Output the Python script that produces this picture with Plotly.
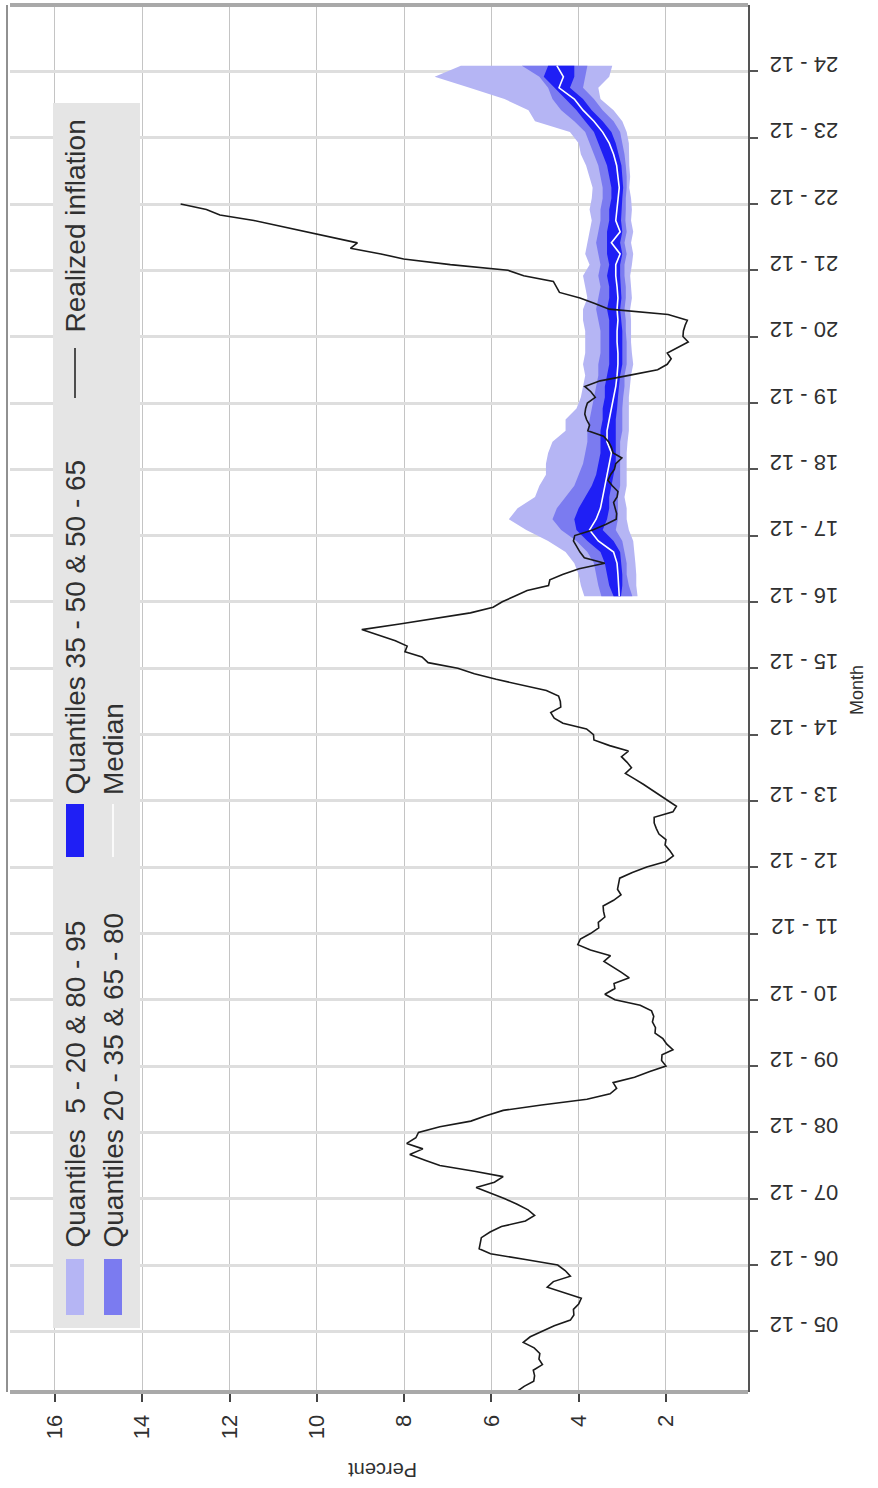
import pandas as pd
import plotly.graph_objects as go

# ---------------------------------------------------------------- data
# Realized annual inflation, monthly, 2005-01 .. 2022-12 (percent)
realized_2005 = [5.43, 5.25, 5.03, 5.01, 5.04, 4.83, 4.91, 4.89, 5.02, 5.27, 5.11, 4.85]
realized_2006 = [4.56, 4.19, 4.11, 4.12, 4.00, 3.94, 4.32, 4.72, 4.58, 4.19, 4.31, 4.48]
realized_2007 = [5.22, 6.02, 6.28, 6.26, 6.23, 6.03, 5.77, 5.22, 5.01, 5.16, 5.41, 5.69]
realized_2008 = [6.00, 6.35, 5.93, 5.73, 6.39, 7.18, 7.52, 7.87, 7.57, 7.94, 7.73, 7.67]
realized_2009 = [7.18, 6.47, 6.14, 5.73, 4.85, 3.81, 3.28, 3.13, 3.21, 2.72, 2.37, 2.00]
realized_2010 = [2.10, 2.09, 1.84, 1.98, 2.07, 2.25, 2.24, 2.31, 2.28, 2.33, 2.59, 3.17]
realized_2011 = [3.40, 3.17, 3.19, 2.84, 3.02, 3.23, 3.42, 3.27, 3.73, 4.02, 3.96, 3.73]
realized_2012 = [3.54, 3.55, 3.40, 3.43, 3.44, 3.20, 3.03, 3.11, 3.08, 3.06, 2.77, 2.44]
realized_2013 = [2.00, 1.83, 1.91, 2.02, 2.00, 2.16, 2.22, 2.27, 2.27, 1.84, 1.76, 1.94]
realized_2014 = [2.13, 2.32, 2.51, 2.72, 2.93, 2.79, 2.89, 3.02, 2.86, 3.29, 3.65, 3.66]
realized_2015 = [3.82, 4.36, 4.56, 4.64, 4.41, 4.42, 4.46, 4.74, 5.35, 5.89, 6.39, 6.77]
realized_2016 = [7.45, 7.59, 7.98, 7.93, 8.20, 8.60, 8.97, 8.10, 7.27, 6.48, 5.96, 5.75]
realized_2017 = [5.47, 5.18, 4.69, 4.66, 4.37, 3.99, 3.40, 3.87, 3.97, 4.05, 4.12, 4.09]
realized_2018 = [3.68, 3.37, 3.14, 3.13, 3.16, 3.20, 3.12, 3.10, 3.23, 3.33, 3.27, 3.18]
realized_2019 = [3.15, 3.01, 3.21, 3.25, 3.31, 3.43, 3.79, 3.75, 3.82, 3.86, 3.84, 3.80]
realized_2020 = [3.62, 3.72, 3.86, 3.51, 2.85, 2.19, 1.97, 1.88, 1.97, 1.75, 1.49, 1.61]
realized_2021 = [1.60, 1.56, 1.51, 1.95, 3.30, 3.63, 3.97, 4.44, 4.51, 4.58, 5.26, 5.62]
realized_2022 = [6.94, 8.01, 8.53, 9.23, 9.07, 9.67, 10.21, 10.84, 11.44, 12.22, 12.53, 13.12]

realized = (realized_2005 + realized_2006 + realized_2007 + realized_2008 + realized_2009
            + realized_2010 + realized_2011 + realized_2012 + realized_2013 + realized_2014
            + realized_2015 + realized_2016 + realized_2017 + realized_2018 + realized_2019
            + realized_2020 + realized_2021 + realized_2022)
realized_months = pd.date_range("2005-01-01", periods=len(realized), freq="MS")

# Expectation quantiles, every second month 2017-01 .. 2025-01 (percent)
q05 = [2.65, 2.68, 2.68, 2.70, 2.72, 2.75, 2.85, 2.90, 2.90, 2.95, 2.90, 2.90,
       2.90, 2.90, 2.88, 2.85, 2.85, 2.85, 2.85, 2.82, 2.80, 2.75, 2.78, 2.80,
       2.80, 2.80, 2.82, 2.78, 2.80, 2.82, 2.78, 2.75, 2.80, 2.75, 2.80, 2.78,
       2.80, 2.84, 2.82, 2.84, 2.85, 2.85, 2.90, 3.00, 3.20, 3.50, 3.55, 3.30, 3.23]
q20 = [2.77, 2.85, 2.90, 2.90, 2.95, 3.00, 3.15, 3.10, 3.10, 3.10, 3.05, 3.05,
       3.05, 3.05, 3.05, 3.00, 3.00, 3.00, 2.98, 2.95, 2.95, 2.90, 2.90, 2.90,
       2.92, 2.92, 2.95, 2.92, 2.92, 2.95, 2.95, 2.90, 2.95, 2.90, 2.93, 2.92,
       2.92, 2.90, 2.90, 2.92, 2.95, 3.00, 3.05, 3.20, 3.45, 3.65, 3.90, 3.85, 3.80]
q35 = [3.03, 3.00, 3.00, 3.02, 3.05, 3.20, 3.45, 3.35, 3.30, 3.30, 3.25, 3.20,
       3.15, 3.15, 3.15, 3.15, 3.15, 3.12, 3.10, 3.08, 3.05, 3.00, 3.00, 3.00,
       3.00, 3.02, 3.05, 3.02, 3.03, 3.05, 3.05, 3.00, 3.05, 3.00, 3.03, 3.02,
       3.00, 2.98, 3.00, 3.02, 3.08, 3.15, 3.25, 3.45, 3.70, 3.90, 4.20, 4.10, 4.10]
q50 = [3.07, 3.08, 3.10, 3.12, 3.20, 3.55, 3.75, 3.60, 3.50, 3.45, 3.40, 3.35,
       3.30, 3.25, 3.35, 3.35, 3.30, 3.25, 3.20, 3.15, 3.12, 3.10, 3.10, 3.12,
       3.12, 3.10, 3.12, 3.10, 3.12, 3.15, 3.15, 3.05, 3.25, 3.05, 3.15, 3.12,
       3.10, 3.07, 3.10, 3.13, 3.20, 3.30, 3.45, 3.65, 3.90, 4.10, 4.45, 4.35, 4.50]
q65 = [3.20, 3.30, 3.35, 3.40, 3.50, 3.80, 4.05, 4.10, 4.00, 3.85, 3.70, 3.60,
       3.55, 3.50, 3.50, 3.50, 3.45, 3.45, 3.40, 3.40, 3.35, 3.30, 3.30, 3.30,
       3.30, 3.30, 3.35, 3.30, 3.30, 3.35, 3.30, 3.35, 3.35, 3.35, 3.30, 3.30,
       3.25, 3.25, 3.30, 3.35, 3.45, 3.55, 3.65, 3.85, 4.05, 4.30, 4.55, 4.80, 4.70]
q80 = [3.48, 3.55, 3.60, 3.65, 3.80, 4.05, 4.40, 4.60, 4.50, 4.30, 4.10, 4.00,
       3.90, 3.85, 3.80, 3.80, 3.75, 3.70, 3.65, 3.60, 3.55, 3.55, 3.50, 3.50,
       3.50, 3.55, 3.60, 3.55, 3.50, 3.55, 3.50, 3.55, 3.60, 3.55, 3.50, 3.50,
       3.45, 3.45, 3.50, 3.55, 3.65, 3.75, 3.85, 4.10, 4.40, 4.60, 4.70, 4.90, 5.30]
q95 = [3.87, 3.95, 4.00, 4.10, 4.30, 4.70, 5.20, 5.60, 5.40, 5.00, 4.90, 4.75,
       4.75, 4.70, 4.60, 4.30, 4.30, 4.05, 3.95, 3.90, 3.85, 3.90, 3.85, 3.85,
       3.85, 3.90, 3.90, 3.80, 3.85, 3.90, 3.75, 3.85, 3.80, 3.75, 3.70, 3.75,
       3.70, 3.68, 3.75, 3.83, 3.95, 4.00, 4.20, 5.00, 5.15, 5.70, 6.50, 7.30, 6.70]
band_months = pd.date_range("2017-01-01", periods=len(q50), freq="2MS")

# Axis ticks
month_tick_dates = pd.date_range("2005-12-01", "2024-12-01", freq="12MS")
month_tick_text = ["05 - 12", "06 - 12", "07 - 12", "08 - 12", "09 - 12", "10 - 12",
                   "11 - 12", "12 - 12", "13 - 12", "14 - 12", "15 - 12", "16 - 12",
                   "17 - 12", "18 - 12", "19 - 12", "20 - 12", "21 - 12", "22 - 12",
                   "23 - 12", "24 - 12"]
percent_ticks = [2, 4, 6, 8, 10, 12, 14, 16]

# ---------------------------------------------------------------- style
FONT = "Liberation Sans, Arial, sans-serif"
TEXT = "#303030"
LIGHT = "#b5b5f4"
MEDIUM = "#7b7bf0"
DARK = "#1f1ff5"

W, H = 878, 1488
PX0, PX1, PY0, PY1 = 10, 748, 5, 1392  # plot-area box in pixels


def fx(xp):
    return (xp - PX0) / (PX1 - PX0)


def fy(yp):
    return (PY1 - yp) / (PY1 - PY0)


def band(lo, hi, color):
    dates = list(band_months)
    return go.Scatter(
        x=list(hi) + list(lo)[::-1],
        y=dates + dates[::-1],
        fill="toself", fillcolor=color, mode="lines",
        line=dict(width=0), hoverinfo="skip", showlegend=False,
    )


fig = go.Figure()
fig.add_trace(band(q05, q95, LIGHT))
fig.add_trace(band(q20, q80, MEDIUM))
fig.add_trace(band(q35, q65, DARK))
fig.add_trace(go.Scatter(x=q50, y=band_months, mode="lines",
                         line=dict(color="white", width=1.6), showlegend=False))
fig.add_trace(go.Scatter(x=realized, y=realized_months, mode="lines",
                         line=dict(color="#1a1a1a", width=1.6), showlegend=False))

# ---------------------------------------------------------------- legend (rotated)
shapes = [
    # panel frame
    dict(type="line", xref="paper", yref="paper", x0=0, x1=1, y0=1, y1=1,
         line=dict(color="#a9a9a9", width=4)),
    dict(type="line", xref="paper", yref="paper", x0=0, x1=1, y0=0, y1=0,
         line=dict(color="#a9a9a9", width=4)),
    dict(type="line", xref="paper", yref="paper", x0=fx(7), x1=fx(7), y0=0, y1=1,
         line=dict(color="#222222", width=1)),
    # legend background
    dict(type="rect", xref="paper", yref="paper", x0=fx(53), x1=fx(140),
         y0=fy(1328), y1=fy(103), fillcolor="#e5e5e5", line=dict(width=0), layer="above"),
    dict(type="rect", xref="paper", yref="paper", x0=fx(66), x1=fx(84),
         y0=fy(1315), y1=fy(1259), fillcolor=LIGHT, line=dict(width=0), layer="above"),
    dict(type="rect", xref="paper", yref="paper", x0=fx(104), x1=fx(122),
         y0=fy(1315), y1=fy(1259), fillcolor=MEDIUM, line=dict(width=0), layer="above"),
    dict(type="rect", xref="paper", yref="paper", x0=fx(66), x1=fx(84),
         y0=fy(857), y1=fy(804), fillcolor=DARK, line=dict(width=0), layer="above"),
    dict(type="line", xref="paper", yref="paper", x0=fx(113), x1=fx(113),
         y0=fy(857), y1=fy(804), line=dict(color="white", width=1.6), layer="above"),
    dict(type="line", xref="paper", yref="paper", x0=fx(75), x1=fx(75),
         y0=fy(398), y1=fy(348), line=dict(color="#1a1a1a", width=1.5), layer="above"),
]

legend_items = [
    ("Quantiles  5 - 20 & 80 - 95", 75, 1250),
    ("Quantiles 20 - 35 & 65 - 80", 113, 1250),
    ("Quantiles 35 - 50 & 50 - 65", 75, 797),
    ("Median", 113, 797),
    ("Realized inflation", 75, 335),
]
annotations = [
    dict(text=t, xref="paper", yref="paper", x=fx(xp), y=fy(yp), textangle=-90,
         xanchor="center", yanchor="bottom", showarrow=False,
         font=dict(family=FONT, size=28, color=TEXT))
    for t, xp, yp in legend_items
]
annotations += [
    dict(text="Percent", xref="paper", yref="paper", x=fx(383), y=fy(1470),
         textangle=180, xanchor="center", yanchor="middle", showarrow=False,
         font=dict(family=FONT, size=20, color=TEXT)),
    dict(text="Month", xref="paper", yref="paper", x=fx(857), y=fy(690),
         textangle=-90, xanchor="center", yanchor="middle", showarrow=False,
         font=dict(family=FONT, size=18, color=TEXT)),
]

fig.update_layout(
    width=W, height=H,
    margin=dict(l=PX0, r=W - PX1, t=PY0, b=H - PY1, pad=0),
    paper_bgcolor="white", plot_bgcolor="white",
    showlegend=False,
    shapes=shapes, annotations=annotations,
    font=dict(family=FONT, color=TEXT),
)
fig.update_xaxes(
    range=[17.03, 0.12], tickvals=percent_ticks, tickangle=-90,
    ticks="outside", ticklen=9, tickwidth=1.5, tickcolor="#444444",
    tickfont=dict(family=FONT, size=22, color=TEXT),
    showgrid=True, gridcolor="#c4c4c4", gridwidth=1,
    zeroline=False, showline=False, ticklabelstandoff=4,
)
fig.update_yaxes(
    type="date", range=["2005-01-01", "2025-12-01"],
    tickvals=month_tick_dates, ticktext=month_tick_text, tickangle=180,
    side="right", ticks="outside", ticklen=8, tickwidth=2, tickcolor="#555555",
    tickfont=dict(family=FONT, size=22, color=TEXT),
    showgrid=True, gridcolor="#dedede", gridwidth=2.5,
    showline=True, linecolor="#555555", linewidth=1.5,
    zeroline=False, ticklabelstandoff=76,
)

fig.write_html("out.html")
